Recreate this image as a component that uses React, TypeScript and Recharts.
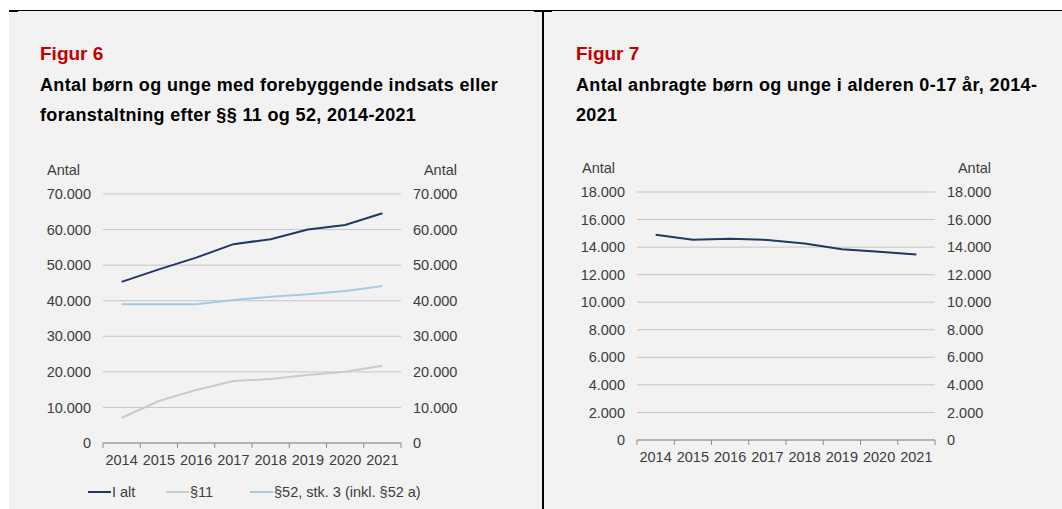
import { LineChart, Line, XAxis, YAxis, CartesianGrid } from "recharts";

const FONT = '"Liberation Sans", Arial, Helvetica, sans-serif';
const TEXT = "#3c3c3c";
const GRID = "#c6c6c6";
const AXIS = "#8c8c8c";
const NAVY = "#203864";
const SAGE = "#c4cfc8";
const SKY = "#a2cbe8";

const years = ["2014", "2015", "2016", "2017", "2018", "2019", "2020", "2021"];

// Figur 6
const iAlt = [45300, 48800, 52100, 55900, 57300, 60000, 61300, 64600];
const par11 = [7100, 11800, 14900, 17400, 18000, 19100, 20000, 21700];
const par52 = [39000, 39000, 39000, 40200, 41100, 41800, 42700, 44100];
const fig6Ticks = [0, 10000, 20000, 30000, 40000, 50000, 60000, 70000];

// Figur 7
const anbragte = [14900, 14540, 14610, 14520, 14270, 13840, 13670, 13470];
const fig7Ticks = [0, 2000, 4000, 6000, 8000, 10000, 12000, 14000, 16000, 18000];

const fig6Data = years.map((y, i) => ({ year: y, iAlt: iAlt[i], p11: par11[i], p52: par52[i] }));
const fig7Data = years.map((y, i) => ({ year: y, anbragte: anbragte[i] }));

const fmt = (v: number) => String(v).replace(/\B(?=(\d{3})+(?!\d))/g, ".");

const X_GAP = 12;
const tickStyle = { fontSize: 14.5, fill: TEXT, fontFamily: FONT };

// year label centred in its band, tick marks on the band boundaries
function YearTick(props: any) {
  const { x, y, payload } = props;
  const half = payload?.offset && payload.offset > 5 ? payload.offset : 18.6;
  const axisY = y - X_GAP;
  const last = payload.value === years[years.length - 1];
  return (
    <g>
      <line x1={x - half} x2={x - half} y1={axisY} y2={axisY + 5} stroke={AXIS} />
      {last && <line x1={x + half} x2={x + half} y1={axisY} y2={axisY + 5} stroke={AXIS} />}
      <text x={x} y={y} dy="0.71em" textAnchor="middle" {...tickStyle}>
        {payload.value}
      </text>
    </g>
  );
}

const abs = (left: number, top: number, extra: object = {}) => ({
  position: "absolute" as const,
  left,
  top,
  ...extra,
});

const titleStyle = { fontSize: 18, fontWeight: 700, lineHeight: "18px", color: "#000", letterSpacing: 0.35, whiteSpace: "nowrap" as const };
const figStyle = { fontSize: 19, fontWeight: 700, lineHeight: "19px", color: "#c00000" };
const smallStyle = { fontSize: 14.5, lineHeight: "14.5px", color: TEXT, whiteSpace: "nowrap" as const };

function LegendItem({ left, color, label }: { left: number; color: string; label: string }) {
  return (
    <>
      <div style={abs(left, 491, { width: 23, height: 2, background: color })} />
      <div style={abs(left + 24, 485, smallStyle)}>{label}</div>
    </>
  );
}

export default function App() {
  return (
    <div
      style={{
        position: "absolute",
        left: 0,
        top: 0,
        width: 1062,
        height: 509,
        background: "#fff",
        fontFamily: FONT,
        overflow: "hidden",
      }}
    >
      {/* panels and frame */}
      <div style={abs(9, 11, { width: 533, height: 498, background: "#f2f2f2" })} />
      <div style={abs(544, 11, { width: 518, height: 498, background: "#f2f2f2" })} />
      <div style={abs(9, 10, { width: 1053, height: 1, background: "#000" })} />
      <div style={abs(9, 10, { width: 9, height: 2, background: "#000" })} />
      <div style={abs(534, 10, { width: 18, height: 2, background: "#000" })} />
      <div style={abs(542, 10, { width: 2, height: 499, background: "#000" })} />

      {/* Figur 6 */}
      <div style={abs(40, 44, figStyle)}>Figur 6</div>
      <div style={abs(40, 76, titleStyle)}>Antal børn og unge med forebyggende indsats eller</div>
      <div style={abs(40, 106, titleStyle)}>foranstaltning efter §§ 11 og 52, 2014-2021</div>
      <div style={abs(47, 163, smallStyle)}>Antal</div>
      <div style={abs(397, 163, { ...smallStyle, width: 60, textAlign: "right" })}>Antal</div>

      <div style={abs(8, 150)}>
        <LineChart width={533} height={323} data={fig6Data} margin={{ top: 44, right: 80, bottom: 0, left: 0 }}>
          <CartesianGrid vertical={false} stroke={GRID} yAxisId="left" />
          <XAxis
            dataKey="year"
            scale="band"
            interval={0}
            height={30}
            tickSize={0}
            tickLine={false}
            tickMargin={X_GAP}
            axisLine={{ stroke: AXIS }}
            tick={<YearTick />}
          />
          <YAxis
            yAxisId="left"
            width={95}
            domain={[0, 70000]}
            ticks={fig6Ticks}
            interval={0}
            allowDataOverflow
            axisLine={false}
            tickLine={false}
            tickSize={0}
            tickMargin={12}
            tickFormatter={fmt}
            tick={tickStyle}
          />
          <YAxis
            yAxisId="right"
            orientation="right"
            width={60}
            domain={[0, 70000]}
            ticks={fig6Ticks}
            interval={0}
            allowDataOverflow
            axisLine={false}
            tickLine={false}
            tickSize={0}
            tickMargin={12}
            tickFormatter={fmt}
            tick={tickStyle}
          />
          <Line yAxisId="left" dataKey="p11" name="§11" stroke={SAGE} strokeWidth={2} dot={false} isAnimationActive={false} />
          <Line yAxisId="left" dataKey="p52" name="§52, stk. 3 (inkl. §52 a)" stroke={SKY} strokeWidth={2} dot={false} isAnimationActive={false} />
          <Line yAxisId="left" dataKey="iAlt" name="I alt" stroke={NAVY} strokeWidth={2} dot={false} isAnimationActive={false} />
        </LineChart>
      </div>

      <LegendItem left={88} color={NAVY} label="I alt" />
      <LegendItem left={166} color={SAGE} label="§11" />
      <LegendItem left={250} color={SKY} label="§52, stk. 3 (inkl. §52 a)" />

      {/* Figur 7 */}
      <div style={abs(576, 44, figStyle)}>Figur 7</div>
      <div style={abs(576, 76, titleStyle)}>Antal anbragte børn og unge i alderen 0-17 år, 2014-</div>
      <div style={abs(576, 106, titleStyle)}>2021</div>
      <div style={abs(582, 161, smallStyle)}>Antal</div>
      <div style={abs(931, 161, { ...smallStyle, width: 60, textAlign: "right" })}>Antal</div>

      <div style={abs(544, 150)}>
        <LineChart width={518} height={320} data={fig7Data} margin={{ top: 42, right: 67, bottom: 0, left: 0 }}>
          <CartesianGrid vertical={false} stroke={GRID} yAxisId="left" />
          <XAxis
            dataKey="year"
            scale="band"
            interval={0}
            height={30}
            tickSize={0}
            tickLine={false}
            tickMargin={X_GAP}
            axisLine={{ stroke: AXIS }}
            tick={<YearTick />}
          />
          <YAxis
            yAxisId="left"
            width={93}
            domain={[0, 18000]}
            ticks={fig7Ticks}
            interval={0}
            allowDataOverflow
            axisLine={false}
            tickLine={false}
            tickSize={0}
            tickMargin={12}
            tickFormatter={fmt}
            tick={tickStyle}
          />
          <YAxis
            yAxisId="right"
            orientation="right"
            width={60}
            domain={[0, 18000]}
            ticks={fig7Ticks}
            interval={0}
            allowDataOverflow
            axisLine={false}
            tickLine={false}
            tickSize={0}
            tickMargin={12}
            tickFormatter={fmt}
            tick={tickStyle}
          />
          <Line yAxisId="left" dataKey="anbragte" name="Anbragte" stroke={NAVY} strokeWidth={2} dot={false} isAnimationActive={false} />
        </LineChart>
      </div>
    </div>
  );
}
